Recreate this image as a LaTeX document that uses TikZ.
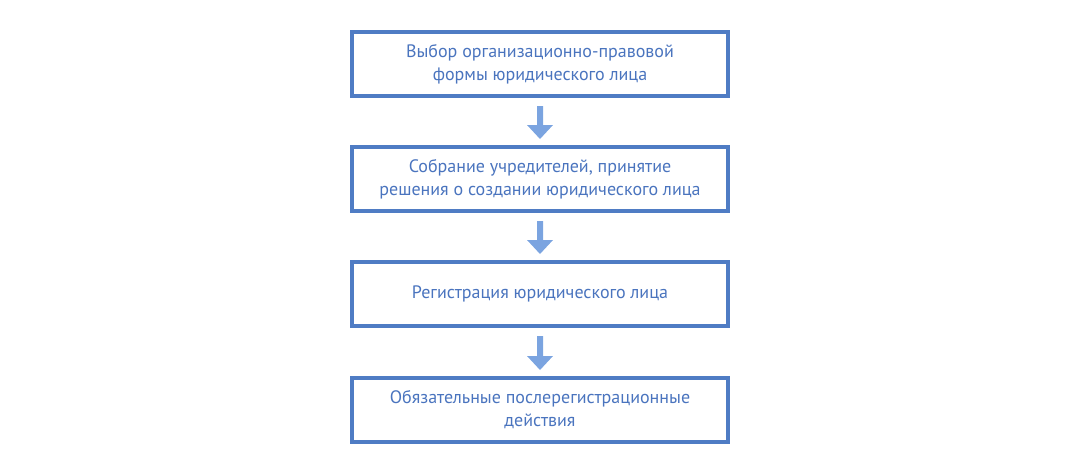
\documentclass[tikz,border=0pt]{standalone}
\usepackage{fontspec}
\setmainfont{PT Sans}
\usetikzlibrary{calc}
\definecolor{bord}{HTML}{4F7CC4}
\definecolor{txt}{HTML}{4A74BE}
\definecolor{arr}{HTML}{7BA4E0}
\begin{document}
\begin{tikzpicture}[x=1pt,y=-1pt,
  boxs/.style={draw=bord,line width=4pt,minimum width=376pt,minimum height=64pt,align=center,text=txt,font=\fontsize{18}{23}\selectfont,inner sep=0pt},
  arrs/.style={fill=arr}]
\useasboundingbox (0,0) rectangle (1080,474);
\node[boxs] (b1) at (540,64) {Выбор организационно-правовой\\формы юридического лица};
\node[boxs] (b2) at (540,179) {Собрание учредителей, принятие\\решения о создании юридического лица};
\node[boxs] (b3) at (540,294) {Регистрация юридического лица};
\node[boxs] (b4) at (540,410) {Обязательные послерегистрационные\\действия};
\foreach \a/\b in {b1/b2,b2/b3,b3/b4}{
  \fill[arr] ($(\a.south)+(-3,8)$) -- ($(\b.north)+(-3,-20)$) -- ($(\b.north)+(-13,-20)$) -- ($(\b.north)+(0,-6)$) -- ($(\b.north)+(13,-20)$) -- ($(\b.north)+(3,-20)$) -- ($(\a.south)+(3,8)$) -- cycle;
}
\end{tikzpicture}
\end{document}
